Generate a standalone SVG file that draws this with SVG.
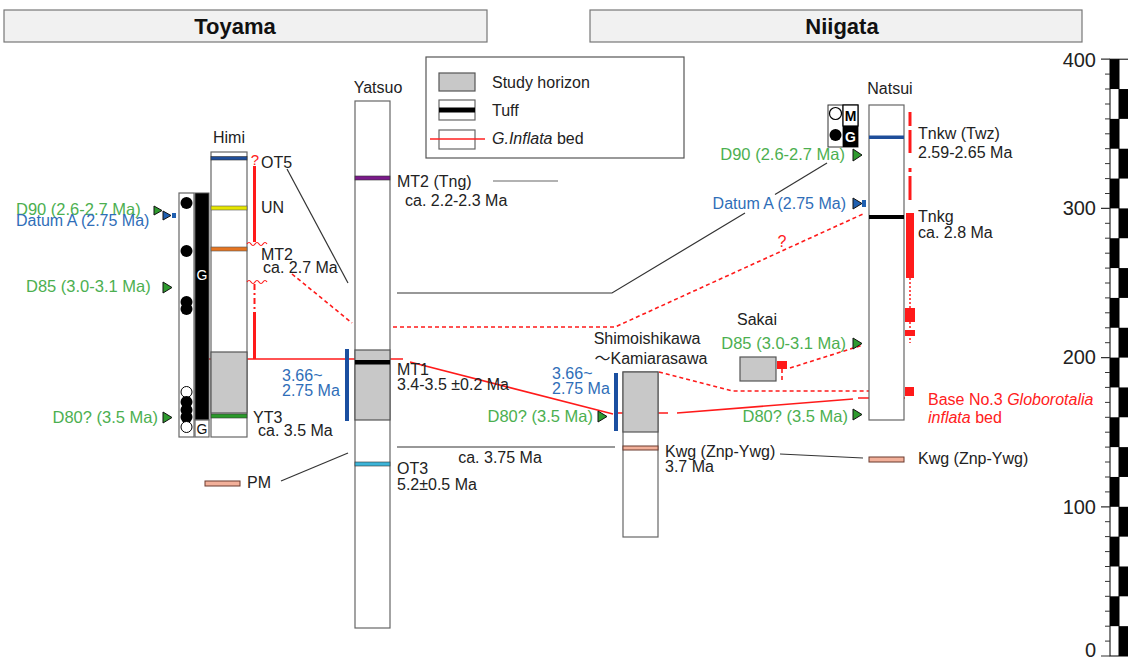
<svg xmlns="http://www.w3.org/2000/svg" width="1128" height="661" viewBox="0 0 1128 661">
<style>
text{font-family:"Liberation Sans",Arial,sans-serif;}
.t{font-size:16px;fill:#222;}
.g{font-size:16.5px;fill:#4caf50;}
.b{font-size:16px;fill:#2f6eb8;}
.r{font-size:16px;fill:#ff2020;}
.col{fill:#fff;stroke:#666;stroke-width:1.2;}
.study{fill:#c8c8c8;stroke:#555;stroke-width:1.2;}
.tri{fill:#2e9a2e;stroke:#111;stroke-width:1;}
.btri{fill:#1f5fb0;stroke:#111;stroke-width:1;}
.ln{stroke:#333;stroke-width:1.2;fill:none;}
.rl{stroke:#ff1a1a;stroke-width:1.6;fill:none;}
.rd{stroke:#ff1a1a;stroke-width:1.6;fill:none;stroke-dasharray:4,3;}
.bbar{fill:#1a4fa0;}
.salmon{fill:#f2b09a;stroke:#6b3b2e;stroke-width:1;}
.hdr{fill:#f1f1f1;stroke:#777;stroke-width:1.2;}
.hdt{font-size:22px;font-weight:bold;fill:#111;text-anchor:middle;}
.sc{font-size:20px;fill:#222;text-anchor:end;}
</style>

<g id="headers">
<rect class="hdr" x="4" y="10" width="483" height="32"/>
<text class="hdt" x="235" y="34">Toyama</text>
<rect class="hdr" x="590" y="10" width="492" height="32"/>
<text class="hdt" x="842" y="34">Niigata</text>
</g>

<g id="legend">
<rect x="426" y="57" width="258" height="101" fill="#fff" stroke="#555" stroke-width="1.2"/>
<rect class="study" x="439" y="73" width="36" height="18"/>
<text class="t" x="492" y="88" font-size="15.5">Study horizon</text>
<rect class="col" x="439" y="100" width="36" height="20"/>
<rect x="439" y="107.5" width="36" height="5" fill="#000"/>
<text class="t" x="492" y="116" font-size="15.5">Tuff</text>
<rect class="col" x="439" y="130" width="36" height="19"/>
<line x1="430" y1="139" x2="485" y2="139" stroke="#ff2020" stroke-width="1.6"/>
<text class="t" x="492" y="144" font-size="15.5"><tspan font-style="italic">G.Inflata</tspan> bed</text>
</g>

<g id="connectors">
<line class="ln" x1="287" y1="169" x2="348" y2="283"/>
<line class="ln" x1="281" y1="481" x2="348" y2="453"/>
<line x1="493" y1="181" x2="558" y2="181" stroke="#666" stroke-width="1.2"/>
<polyline class="ln" points="397,293 612,293 745,213"/>
<line class="ln" x1="775" y1="194.5" x2="827" y2="163"/>
<line class="ln" x1="397" y1="447" x2="615" y2="447"/>
<line class="ln" x1="780" y1="454" x2="863" y2="458"/>
<line class="rl" x1="209" y1="359" x2="403" y2="359"/>
<line class="rl" x1="410" y1="362" x2="613" y2="414"/>
<line class="rl" x1="617" y1="413" x2="668" y2="413"/>
<line class="rl" x1="677" y1="413" x2="853" y2="399"/>
<line class="rl" x1="858" y1="398" x2="905" y2="398"/>
<line class="rd" x1="292" y1="274" x2="352" y2="323"/>
<polyline class="rd" points="393,327 615,327 863,214"/>
<polyline class="rd" points="659,372 733,391 870,391"/>
<line class="rd" x1="790" y1="368" x2="863" y2="345"/>
<line class="rd" x1="782" y1="369" x2="782" y2="381" stroke-dasharray="2,2"/>
</g>

<g id="himi">
<text class="t" x="229" y="143" text-anchor="middle">Himi</text>
<rect class="col" x="179" y="193" width="15" height="244"/>
<circle cx="186.5" cy="203" r="6" fill="#000"/>
<circle cx="186.5" cy="251" r="6" fill="#000"/>
<circle cx="186.5" cy="302" r="6" fill="#000"/>
<circle cx="186.5" cy="309" r="6" fill="#000"/>
<circle cx="186.5" cy="392" r="5.5" fill="#fff" stroke="#000" stroke-width="1"/>
<circle cx="186.5" cy="402" r="6" fill="#000"/>
<circle cx="186.5" cy="410" r="6" fill="#000"/>
<circle cx="186.5" cy="417" r="6" fill="#000"/>
<circle cx="186.5" cy="427" r="5.5" fill="#fff" stroke="#000" stroke-width="1"/>
<rect x="195" y="193" width="14" height="227" fill="#000" stroke="#555" stroke-width="1"/>
<text x="202" y="280" text-anchor="middle" font-size="14" fill="#fff">G</text>
<rect class="col" x="195" y="420" width="14" height="17"/>
<text x="202" y="434" text-anchor="middle" font-size="14" fill="#111">G</text>
<rect class="col" x="211" y="152" width="36" height="285"/>
<rect class="study" x="211" y="352" width="36" height="61"/>
<rect x="211" y="156.5" width="36" height="3.5" fill="#1f4e9a" stroke="#333" stroke-width="0.6"/>
<rect x="211" y="206" width="36" height="4" fill="#e6e600" stroke="#555" stroke-width="0.6"/>
<rect x="211" y="247" width="36" height="4" fill="#e57522" stroke="#555" stroke-width="0.6"/>
<rect x="211" y="414" width="36" height="4" fill="#2a9a2a" stroke="#333" stroke-width="0.6"/>
<text x="255" y="165" text-anchor="middle" font-size="15" fill="#ff2020">?</text>
<line x1="254.5" y1="166" x2="254.5" y2="242" stroke="#ff1a1a" stroke-width="3"/>
<line x1="254.5" y1="284" x2="254.5" y2="312" stroke="#ff1a1a" stroke-width="2" stroke-dasharray="6,3,2,3"/>
<line x1="254.5" y1="312" x2="254.5" y2="359" stroke="#ff1a1a" stroke-width="3"/>
<path d="M247,244 q2,-3 4,0 t4,0 t4,0 t4,0 t4,0" stroke="#ff1a1a" stroke-width="1.2" fill="none"/>
<path d="M247,282 q2,-3 4,0 t4,0 t4,0 t4,0 t4,0" stroke="#ff1a1a" stroke-width="1.2" fill="none"/>
<text class="t" x="261" y="168">OT5</text>
<text class="t" x="261" y="213">UN</text>
<text class="t" x="261" y="260">MT2</text>
<text class="t" x="263" y="273">ca. 2.7 Ma</text>
<text class="t" x="253" y="423">YT3</text>
<text class="t" x="258" y="436">ca. 3.5 Ma</text>
<text class="g" x="16" y="215">D90 (2.6-2.7 Ma)</text>
<text class="b" x="16" y="226" font-size="15.6">Datum A (2.75 Ma)</text>
<polygon class="tri" points="154,206 154,215 162,210.5"/>
<polygon class="btri" points="163,211 163,220 171,215.5"/>
<rect x="172" y="213" width="4" height="5" fill="#1f5fb0"/>
<text class="g" x="26" y="292">D85 (3.0-3.1 Ma)</text>
<polygon class="tri" points="163,282 163,293 172,287.5"/>
<text class="g" x="158" y="423" text-anchor="end">D80? (3.5 Ma)</text>
<polygon class="tri" points="163,412 163,423 172,417.5"/>
<rect class="salmon" x="205" y="481" width="35" height="5"/>
<text class="t" x="247" y="488">PM</text>
</g>

<g id="yatsuo">
<text class="t" x="378" y="93" text-anchor="middle">Yatsuo</text>
<rect class="col" x="355" y="101" width="35" height="527"/>
<rect x="355" y="176" width="35" height="4" fill="#7b1a8a" stroke="#333" stroke-width="0.6"/>
<rect class="study" x="355" y="350" width="35" height="70"/>
<rect x="355" y="360" width="35" height="4.5" fill="#000"/>
<rect x="355" y="462" width="35" height="4" fill="#3cb4d8" stroke="#333" stroke-width="0.6"/>
<rect class="bbar" x="345" y="349" width="4" height="72"/>
<text class="b" x="282" y="381">3.66~</text>
<text class="b" x="282" y="396">2.75 Ma</text>
<text class="t" x="397" y="187">MT2 (Tng)</text>
<text class="t" x="405" y="206">ca. 2.2-2.3 Ma</text>
<text class="t" x="397" y="375">MT1</text>
<text class="t" x="397" y="390" font-size="16.5">3.4-3.5 ±0.2 Ma</text>
<text class="t" x="500" y="463" text-anchor="middle">ca. 3.75 Ma</text>
<text class="t" x="397" y="474">OT3</text>
<text class="t" x="397" y="490">5.2±0.5 Ma</text>
</g>

<g id="shimoishikawa">
<text class="t" x="647" y="344" text-anchor="middle">Shimoishikawa</text>
<text class="t" x="651" y="364" text-anchor="middle" style="font-family:'Liberation Sans','Noto Sans CJK JP',sans-serif">～Kamiarasawa</text>
<rect class="col" x="623" y="372" width="35" height="165"/>
<rect class="study" x="623" y="372" width="35" height="60"/>
<rect class="salmon" x="623" y="446" width="35" height="4" stroke-width="0.6"/>
<rect class="bbar" x="614" y="373" width="4" height="58"/>
<text class="b" x="552" y="379">3.66~</text>
<text class="b" x="552" y="394">2.75 Ma</text>
<text class="g" x="593" y="422" text-anchor="end">D80? (3.5 Ma)</text>
<polygon class="tri" points="598,411 598,422 607,416.5"/>
<text class="t" x="665" y="457">Kwg (Znp-Ywg)</text>
<text class="t" x="665" y="472">3.7 Ma</text>
</g>

<g id="sakai">
<text class="t" x="757" y="325" text-anchor="middle">Sakai</text>
<text class="g" x="846" y="349" text-anchor="end">D85 (3.0-3.1 Ma)</text>
<polygon class="tri" points="853,338 853,349 862,343.5"/>
<rect class="study" x="740" y="357" width="36" height="24"/>
<rect x="777" y="361" width="10" height="8" fill="#ff1a1a"/>
</g>

<g id="natsui">
<text class="t" x="890" y="94" text-anchor="middle">Natsui</text>
<rect class="col" x="869" y="105" width="35" height="315"/>
<rect x="869" y="135.5" width="35" height="3.5" fill="#1f4e9a"/>
<rect x="869" y="215" width="35" height="4" fill="#000"/>
<rect x="828" y="105" width="30" height="42" fill="#fff" stroke="#333" stroke-width="1"/>
<line x1="843" y1="105" x2="843" y2="147" stroke="#333" stroke-width="1"/>
<circle cx="835.5" cy="113.5" r="6" fill="#fff" stroke="#000" stroke-width="1.2"/>
<circle cx="835.5" cy="135" r="6" fill="#000"/>
<rect x="843" y="105" width="15" height="21" fill="#fff" stroke="#000" stroke-width="1.2"/>
<text x="850.5" y="121" text-anchor="middle" font-size="14" font-weight="bold" fill="#000">M</text>
<rect x="843" y="126" width="15" height="21" fill="#000"/>
<text x="850.5" y="142" text-anchor="middle" font-size="14" font-weight="bold" fill="#fff">G</text>
<text class="g" x="845" y="160" text-anchor="end">D90 (2.6-2.7 Ma)</text>
<polygon class="tri" points="853,149 853,161 862,155"/>
<text class="b" x="846" y="209" text-anchor="end" font-size="15.6">Datum A (2.75 Ma)</text>
<polygon class="btri" points="853,198 853,209 862,203.5"/>
<rect x="862" y="200" width="4" height="7" fill="#1f5fb0"/>
<text x="782" y="247" text-anchor="middle" font-size="16" fill="#ff2020">?</text>
<text class="g" x="848" y="422" text-anchor="end">D80? (3.5 Ma)</text>
<polygon class="tri" points="853,409 853,420 862,414.5"/>
<line x1="910" y1="112" x2="910" y2="126" stroke="#ff1a1a" stroke-width="3"/>
<line x1="910" y1="130" x2="910" y2="153" stroke="#ff1a1a" stroke-width="3"/>
<line x1="910" y1="168" x2="910" y2="172" stroke="#ff1a1a" stroke-width="3"/>
<line x1="910" y1="176" x2="910" y2="200" stroke="#ff1a1a" stroke-width="3"/>
<rect x="906" y="213" width="8" height="65" fill="#ff1a1a"/>
<line x1="910" y1="278" x2="910" y2="343" stroke="#ff1a1a" stroke-width="1.5" stroke-dasharray="2,2"/>
<rect x="905" y="308" width="10" height="14" fill="#ff1a1a"/>
<rect x="905" y="330" width="10" height="6" fill="#ff1a1a"/>
<rect x="905" y="387" width="9" height="9" fill="#ff1a1a"/>
<text class="t" x="918" y="139">Tnkw (Twz)</text>
<text class="t" x="918" y="158">2.59-2.65 Ma</text>
<text class="t" x="918" y="222">Tnkg</text>
<text class="t" x="918" y="238">ca. 2.8 Ma</text>
<text class="r" x="928" y="405">Base No.3 <tspan font-style="italic">Globorotalia</tspan></text>
<text class="r" x="928" y="423"><tspan font-style="italic">inflata</tspan> bed</text>
<rect class="salmon" x="869" y="457" width="35" height="5"/>
<text class="t" x="918" y="464">Kwg (Znp-Ywg)</text>
</g>

<g id="scale">
<rect x="1110" y="59.2" width="9" height="29.84" fill="#000"/>
<rect x="1119" y="89.04" width="12" height="29.84" fill="#000"/>
<rect x="1110" y="118.88" width="9" height="29.84" fill="#000"/>
<rect x="1119" y="148.72" width="12" height="29.84" fill="#000"/>
<rect x="1110" y="178.56" width="9" height="29.84" fill="#000"/>
<rect x="1119" y="208.4" width="12" height="29.84" fill="#000"/>
<rect x="1110" y="238.24" width="9" height="29.84" fill="#000"/>
<rect x="1119" y="268.08" width="12" height="29.84" fill="#000"/>
<rect x="1110" y="297.92" width="9" height="29.84" fill="#000"/>
<rect x="1119" y="327.76" width="12" height="29.84" fill="#000"/>
<rect x="1110" y="357.6" width="9" height="29.84" fill="#000"/>
<rect x="1119" y="387.44" width="12" height="29.84" fill="#000"/>
<rect x="1110" y="417.28" width="9" height="29.84" fill="#000"/>
<rect x="1119" y="447.12" width="12" height="29.84" fill="#000"/>
<rect x="1110" y="476.96" width="9" height="29.84" fill="#000"/>
<rect x="1119" y="506.8" width="12" height="29.84" fill="#000"/>
<rect x="1110" y="536.64" width="9" height="29.84" fill="#000"/>
<rect x="1119" y="566.48" width="12" height="29.84" fill="#000"/>
<rect x="1110" y="596.32" width="9" height="29.84" fill="#000"/>
<rect x="1119" y="626.16" width="12" height="29.84" fill="#000"/>
<rect x="1110" y="59.2" width="20" height="596.8" fill="none" stroke="#000" stroke-width="1"/>
<line x1="1119" y1="59.2" x2="1119" y2="656" stroke="#000" stroke-width="1"/>
<path d="M1105,74.1h5M1105,89h5M1105,104h5M1105,118.9h5M1105,133.8h5M1105,148.7h5M1105,163.6h5M1105,178.6h5M1105,193.5h5M1105,223.3h5M1105,238.2h5M1105,253.2h5M1105,268.1h5M1105,283h5M1105,297.9h5M1105,312.8h5M1105,327.8h5M1105,342.7h5M1105,372.5h5M1105,387.4h5M1105,402.4h5M1105,417.3h5M1105,432.2h5M1105,447.1h5M1105,462h5M1105,477h5M1105,491.9h5M1105,521.7h5M1105,536.6h5M1105,551.6h5M1105,566.5h5M1105,581.4h5M1105,596.3h5M1105,611.2h5M1105,626.2h5M1105,641.1h5" stroke="#333" stroke-width="1"/>
<path d="M1101,59.2h9M1101,208.4h9M1101,357.6h9M1101,506.8h9M1101,656h9" stroke="#333" stroke-width="1.2"/>
<text class="sc" x="1096" y="67">400</text>
<text class="sc" x="1096" y="215">300</text>
<text class="sc" x="1096" y="364">200</text>
<text class="sc" x="1096" y="514">100</text>
<text class="sc" x="1096" y="657">0</text>
</g>
</svg>
